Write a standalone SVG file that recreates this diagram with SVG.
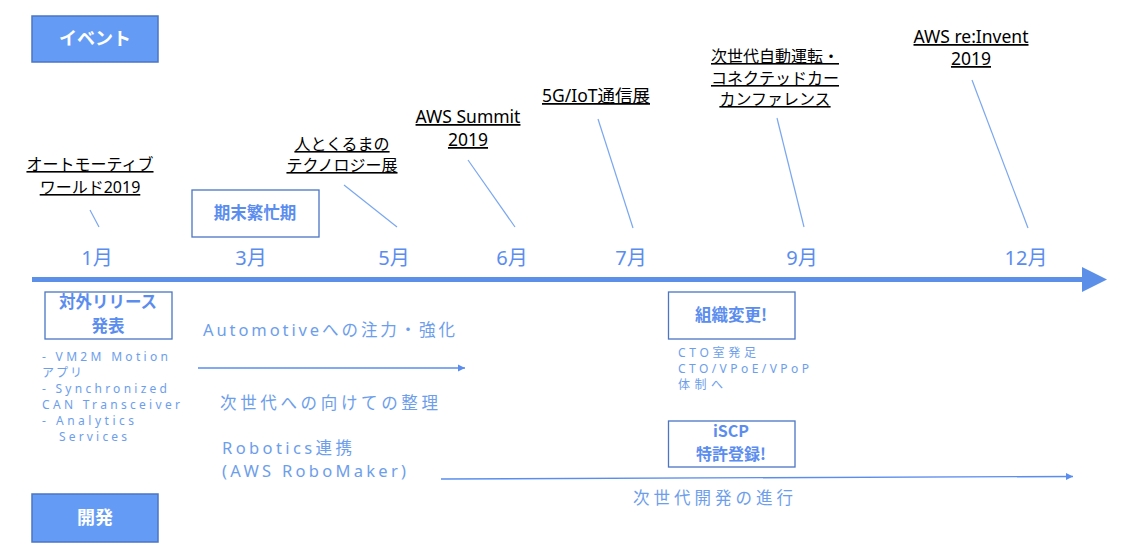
<svg xmlns="http://www.w3.org/2000/svg" width="1123" height="554" viewBox="0 0 1123 554">
<style>
.hdr{fill:#649cf5;stroke:#4a76c4;stroke-width:1.5}
.hdrt{fill:#fff;font-family:"Noto Sans CJK JP","Noto Sans",sans-serif;font-weight:bold;font-size:18px;text-anchor:middle}
.box{fill:#fff;stroke:#4a76c4;stroke-width:1.3}
.boxt{fill:#5b8def;font-family:"Noto Sans CJK JP","Noto Sans",sans-serif;font-weight:bold;font-size:16.5px;text-anchor:middle}
.mon{fill:#5b8def;font-family:"Noto Sans","Noto Sans CJK JP",sans-serif;font-size:20px;text-anchor:middle}
.ev{fill:#000;font-family:"Noto Sans","Noto Sans CJK JP",sans-serif;font-size:16px;text-anchor:middle;text-decoration:underline}
.evl{font-size:17.5px}
.lead{stroke:#7aa7f0;stroke-width:1.2;fill:none}
.lt{fill:#6d9eeb;font-family:"Noto Sans","Noto Sans CJK JP",sans-serif;font-size:16.5px}
.sm{fill:#6d9eeb;font-family:"Noto Sans","Noto Sans CJK JP",sans-serif;font-size:12px}
.thin{stroke:#5b8def;stroke-width:1.3;fill:none}
</style>
<defs>
<marker id="ah" markerWidth="8" markerHeight="8" refX="7" refY="4" orient="auto" markerUnits="userSpaceOnUse">
<path d="M0,0.5 L7,4 L0,7.5 Z" fill="#5b8def"/>
</marker>
</defs>
<rect width="1123" height="554" fill="#fff"/>

<g id="header-event"><rect class="hdr" x="32" y="16" width="126" height="46"/><text class="hdrt" x="95" y="45">イベント</text></g>
<g id="header-dev"><rect class="hdr" x="32" y="494" width="126" height="48"/><text class="hdrt" x="95" y="524">開発</text></g>

<g id="connectors">
<line x1="32" y1="279.5" x2="1085" y2="279.5" stroke="#5b8fe8" stroke-width="5"/>
<polygon points="1082,267 1107,279.5 1082,292" fill="#5b8fe8"/>
<line class="lead" x1="90" y1="210" x2="99" y2="227"/>
<line class="lead" x1="344" y1="185" x2="397" y2="227"/>
<line class="lead" x1="468" y1="160" x2="515" y2="227"/>
<line class="lead" x1="598" y1="119" x2="633" y2="228"/>
<line class="lead" x1="777" y1="118" x2="804" y2="227"/>
<line class="lead" x1="972" y1="80" x2="1028" y2="228"/>
<line class="thin" x1="198" y1="368" x2="465" y2="368" marker-end="url(#ah)"/>
<line class="thin" x1="441" y1="479" x2="1073" y2="476.5" marker-end="url(#ah)"/>
</g>

<g id="months">
<text class="mon" x="97" y="265">1月</text>
<text class="mon" x="251" y="265">3月</text>
<text class="mon" x="394" y="265">5月</text>
<text class="mon" x="512" y="265">6月</text>
<text class="mon" x="631" y="265">7月</text>
<text class="mon" x="802" y="265">9月</text>
<text class="mon" x="1026" y="265">12月</text>
</g>

<g id="ev-automotive-world"><text class="ev" x="90" y="170">オートモーティブ</text><text class="ev" x="90" y="193">ワールド2019</text></g>
<g id="ev-hito-kuruma"><text class="ev" x="342" y="150">人とくるまの</text><text class="ev" x="342" y="171">テクノロジー展</text></g>
<g id="ev-aws-summit"><text class="ev evl" x="468" y="123">AWS Summit</text><text class="ev evl" x="468" y="146">2019</text></g>
<g id="ev-5g"><text class="ev evl" x="596" y="102">5G/IoT通信展</text></g>
<g id="ev-jisedai"><text class="ev" x="775" y="62">次世代自動運転・</text><text class="ev" x="775" y="84">コネクテッドカー</text><text class="ev" x="775" y="105">カンファレンス</text></g>
<g id="ev-reinvent"><text class="ev evl" x="971" y="43">AWS re:Invent</text><text class="ev evl" x="971" y="65">2019</text></g>

<g id="busy"><rect class="box" x="192" y="190" width="127" height="47"/><text class="boxt" x="255" y="219">期末繁忙期</text></g>

<g id="release"><rect class="box" x="45" y="292" width="127" height="47"/><text class="boxt" x="108" y="308">対外リリース</text><text class="boxt" x="108" y="332">発表</text>
<text class="sm" x="42" y="361" textLength="126" lengthAdjust="spacing">- VM2M Motion</text>
<text class="sm" x="42" y="377" textLength="40" lengthAdjust="spacing">アプリ</text>
<text class="sm" x="42" y="393" textLength="125" lengthAdjust="spacing">- Synchronized</text>
<text class="sm" x="42" y="409" textLength="138" lengthAdjust="spacing">CAN Transceiver</text>
<text class="sm" x="42" y="425" textLength="92" lengthAdjust="spacing">-  Analytics</text>
<text class="sm" x="59" y="441" textLength="68" lengthAdjust="spacing">Services</text>
</g>

<g id="automotive"><text class="lt" x="203" y="336" textLength="252" lengthAdjust="spacing">Automotiveへの注力・強化</text></g>
<g id="jisedai-seiri"><text class="lt" x="220" y="409" textLength="218" lengthAdjust="spacing">次世代への向けての整理</text></g>
<g id="robotics"><text class="lt" x="222" y="454" textLength="130" lengthAdjust="spacing">Robotics連携</text><text class="lt" x="222" y="477" textLength="184" lengthAdjust="spacing">(AWS RoboMaker)</text></g>
<g id="jisedai-kaihatsu"><text class="lt" x="633" y="504" textLength="160" lengthAdjust="spacing">次世代開発の進行</text></g>

<g id="org-change"><rect class="box" x="668.5" y="292" width="126.5" height="47"/><text class="boxt" x="731" y="321">組織変更!</text>
<text class="sm" x="678" y="357" textLength="78" lengthAdjust="spacing">CTO室発足</text>
<text class="sm" x="678" y="373" textLength="131" lengthAdjust="spacing">CTO/VPoE/VPoP</text>
<text class="sm" x="678" y="389" textLength="45" lengthAdjust="spacing">体制へ</text>
</g>
<g id="iscp"><rect class="box" x="668.5" y="421" width="126.5" height="46"/><text class="boxt" x="731" y="437" style="font-size:16px">iSCP</text><text class="boxt" x="731" y="460" style="font-size:16px">特許登録!</text></g>
</svg>
